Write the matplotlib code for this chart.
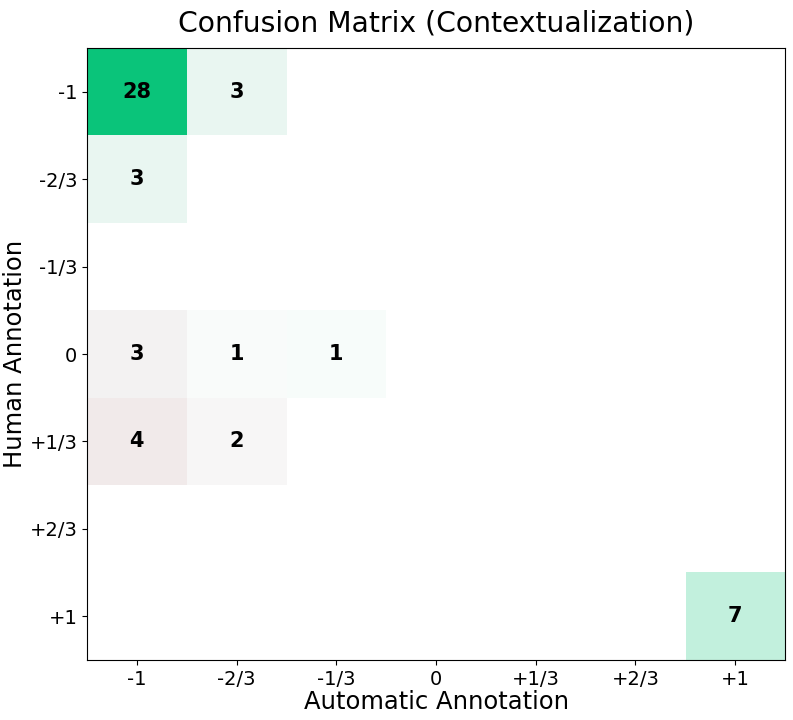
import numpy as np
import matplotlib
matplotlib.use('Agg')
import matplotlib.pyplot as plt
from matplotlib.colors import LinearSegmentedColormap

labels = ['-1', '-2/3', '-1/3', '0', '+1/3', '+2/3', '+1']
# rows: human annotation, cols: automatic annotation
cm = np.array([
    [28, 3, 0, 0, 0, 0, 0],
    [3, 0, 0, 0, 0, 0, 0],
    [0, 0, 0, 0, 0, 0, 0],
    [3, 1, 1, 0, 0, 0, 0],
    [4, 2, 0, 0, 0, 0, 0],
    [0, 0, 0, 0, 0, 0, 0],
    [0, 0, 0, 0, 0, 0, 7],
])

n = len(labels)
# colour by distance from diagonal, opacity by count
cmap = LinearSegmentedColormap.from_list('gr', ['#0BC47A', '#8f8f8f', '#c02828'])
rgba = np.ones((n, n, 3))
for i in range(n):
    for j in range(n):
        a = cm[i, j] / cm.max()
        base = np.array(cmap(abs(i - j) / (n - 1))[:3])
        rgba[i, j] = 1 - a * (1 - base)

fig = plt.figure(figsize=(7.93, 7.2), dpi=100)
ax = fig.add_axes([0.1097, 0.0833, 0.8803, 0.85])
ax.imshow(rgba, aspect='auto', interpolation='nearest')

for i in range(n):
    for j in range(n):
        if cm[i, j] > 0:
            ax.text(j, i, str(cm[i, j]), ha='center', va='center',
                    fontsize=15, fontweight='bold', color='black')

ax.set_xticks(range(n))
ax.set_xticklabels(labels, fontsize=14)
ax.set_yticks(range(n))
ax.set_yticklabels(labels, fontsize=14)
ax.set_xlabel('Automatic Annotation', fontsize=17.5, labelpad=1)
ax.set_ylabel('Human Annotation', fontsize=17.5, labelpad=2)
ax.set_title('Confusion Matrix (Contextualization)', fontsize=20.3, pad=12)

fig.savefig('out.png', dpi=100)
